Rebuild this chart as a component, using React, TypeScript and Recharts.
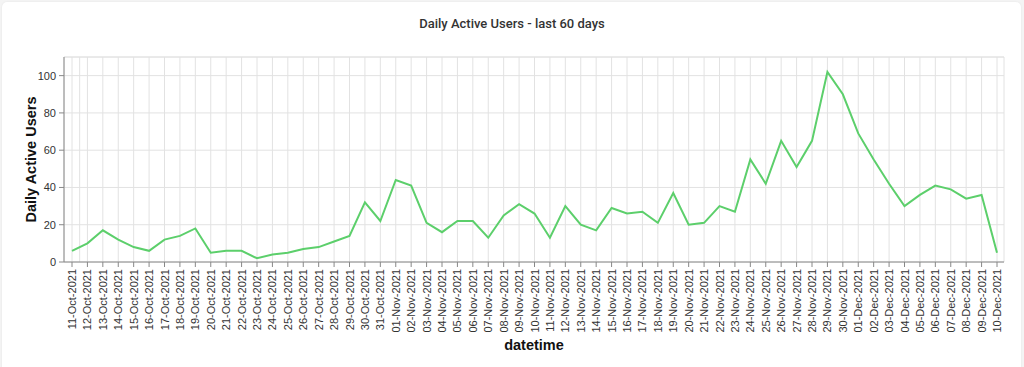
import React from "react";
import {
  LineChart,
  Line,
  XAxis,
  YAxis,
  CartesianGrid,
  ReferenceLine,
} from "recharts";

document.body.style.margin = "0";

const days = [
  "11-Oct-2021", "12-Oct-2021", "13-Oct-2021", "14-Oct-2021", "15-Oct-2021",
  "16-Oct-2021", "17-Oct-2021", "18-Oct-2021", "19-Oct-2021", "20-Oct-2021",
  "21-Oct-2021", "22-Oct-2021", "23-Oct-2021", "24-Oct-2021", "25-Oct-2021",
  "26-Oct-2021", "27-Oct-2021", "28-Oct-2021", "29-Oct-2021", "30-Oct-2021",
  "31-Oct-2021", "01-Nov-2021", "02-Nov-2021", "03-Nov-2021", "04-Nov-2021",
  "05-Nov-2021", "06-Nov-2021", "07-Nov-2021", "08-Nov-2021", "09-Nov-2021",
  "10-Nov-2021", "11-Nov-2021", "12-Nov-2021", "13-Nov-2021", "14-Nov-2021",
  "15-Nov-2021", "16-Nov-2021", "17-Nov-2021", "18-Nov-2021", "19-Nov-2021",
  "20-Nov-2021", "21-Nov-2021", "22-Nov-2021", "23-Nov-2021", "24-Nov-2021",
  "25-Nov-2021", "26-Nov-2021", "27-Nov-2021", "28-Nov-2021", "29-Nov-2021",
  "30-Nov-2021", "01-Dec-2021", "02-Dec-2021", "03-Dec-2021", "04-Dec-2021",
  "05-Dec-2021", "06-Dec-2021", "07-Dec-2021", "08-Dec-2021", "09-Dec-2021",
  "10-Dec-2021",
];

const activeUsers = [
  6, 10, 17, 12, 8, 6, 12, 14, 18, 5,
  6, 6, 2, 4, 5, 7, 8, 11, 14, 32,
  22, 44, 41, 21, 16, 22, 22, 13, 25, 31,
  26, 13, 30, 20, 17, 29, 26, 27, 21, 37,
  20, 21, 30, 27, 55, 42, 65, 51, 65, 102,
  90, 69, 55, 42, 30, 36, 41, 39, 34, 36,
  5,
];

const yTicks = [0, 20, 40, 60, 80, 100];
const yMax = 110;

const data = days.map((d, i) => ({ datetime: d, users: activeUsers[i] }));

const axisFont = "'Liberation Sans', Arial, Helvetica, sans-serif";
const gridColor = "#e2e2e2";

function DateTick({ x, y, payload }: any) {
  return (
    <g transform={`translate(${x},${y})`}>
      <text
        transform="rotate(-90)"
        textAnchor="end"
        dominantBaseline="central"
        fontSize={11}
        fontFamily={axisFont}
        fill="#333"
      >
        {payload.value}
      </text>
    </g>
  );
}

function ValueTick({ x, y, payload }: any) {
  return (
    <text
      x={x}
      y={y}
      textAnchor="end"
      dominantBaseline="central"
      fontSize={11}
      fontFamily={axisFont}
      fill="#333"
    >
      {payload.value}
    </text>
  );
}

export default function App() {
  return (
    <div style={{ position: "relative", width: 1024, height: 367, background: "#f4f4f4", overflow: "hidden" }}>
      <div
        style={{
          position: "absolute",
          left: 2,
          top: 2,
          width: 1019,
          height: 380,
          background: "#fff",
          borderRadius: 5,
          boxShadow: "0 0 2px rgba(0,0,0,0.08)",
        }}
      />
      <div
        style={{
          position: "absolute",
          left: 0,
          top: 16,
          width: 1024,
          textAlign: "center",
          fontFamily: "Roboto, 'Liberation Sans', sans-serif",
          fontWeight: 500,
          fontSize: 13,
          lineHeight: "16px",
          color: "#333",
        }}
      >
        Daily Active Users - last 60 days
      </div>
      <div style={{ position: "absolute", left: 0, top: 0 }}>
        <LineChart width={1024} height={367} data={data} margin={{ top: 57, right: 20, left: 0, bottom: 0 }}>
          <CartesianGrid stroke={gridColor} />
          <XAxis
            dataKey="datetime"
            interval={0}
            height={105}
            padding={{ left: 8, right: 7 }}
            stroke="#888"
            tickSize={5}
            tickMargin={2}
            tick={<DateTick />}
            label={{
              value: "datetime",
              position: "insideBottom",
              offset: 17,
              fill: "#111",
              fontSize: 14.5,
              fontWeight: 700,
              fontFamily: axisFont,
            }}
          />
          {/* hidden unpadded axis, only used to place the right frame line */}
          <XAxis xAxisId="frame" type="number" domain={[0, 1]} hide />
          <YAxis
            width={64}
            domain={[0, yMax]}
            ticks={yTicks}
            stroke="#888"
            tickSize={5}
            tickMargin={3}
            tick={<ValueTick />}
            label={{
              value: "Daily Active Users",
              angle: -90,
              position: "center",
              dx: -1,
              fill: "#111",
              fontSize: 14.5,
              fontWeight: 700,
              fontFamily: axisFont,
            }}
          />
          <ReferenceLine y={yMax} stroke={gridColor} />
          <ReferenceLine xAxisId="frame" x={1} stroke={gridColor} />
          <Line
            type="linear"
            dataKey="users"
            stroke="#5ccf6b"
            strokeWidth={2}
            dot={false}
            isAnimationActive={false}
          />
        </LineChart>
      </div>
    </div>
  );
}
